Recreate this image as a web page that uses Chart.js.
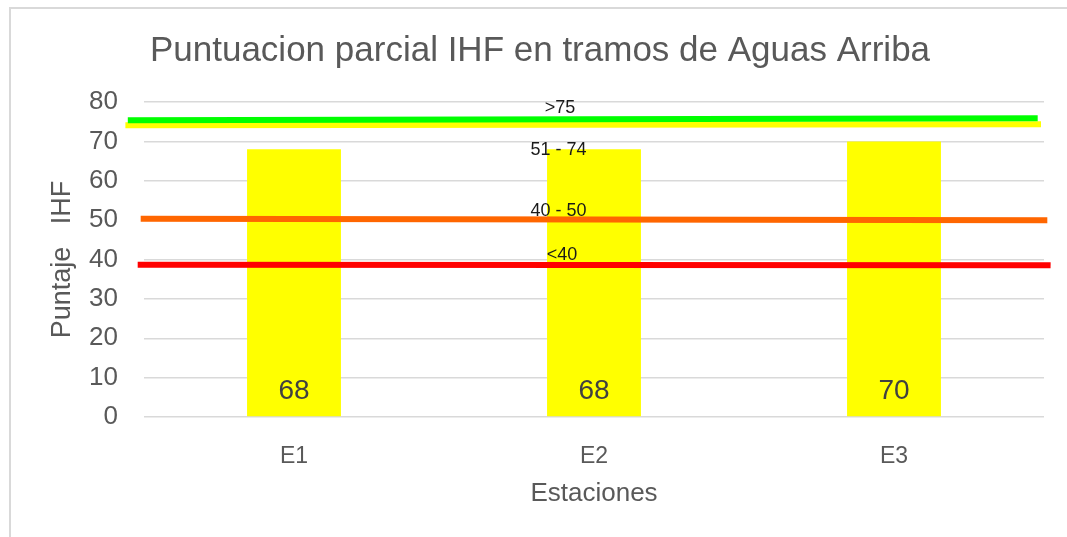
<!DOCTYPE html>
<html>
<head>
<meta charset="utf-8">
<script src="https://cdn.jsdelivr.net/npm/chart.js@4/dist/chart.umd.min.js"></script>
<style>
  body { margin: 0; background: #fff; }
  #wrap { position: relative; width: 1067px; height: 537px; overflow: hidden; }
  #frame { position: absolute; left: 9px; top: 7px; width: 1100px; height: 600px;
           border-top: 2px solid #d9d9d9; border-left: 2px solid #d9d9d9; }
  canvas { position: absolute; left: 0; top: 0; }
</style>
</head>
<body>
<div id="wrap">
  <div id="frame"></div>
  <canvas id="myChart" width="1067" height="537"></canvas>
</div>
<script>
// datos del grafico
const estaciones = ['E1', 'E2', 'E3'];
const puntajes = [68, 68, 70];

// lineas de rango (x en unidades de categoria, y en puntaje)
const lineaVerde = [{x: -0.054, y: 75.35}, {x: 2.979, y: 75.86}];
const lineaAmarilla = [{x: -0.062, y: 74.08}, {x: 2.99, y: 74.33}];
const lineaNaranja = [{x: -0.011, y: 50.36}, {x: 3.011, y: 49.95}];
const lineaRoja = [{x: -0.021, y: 38.68}, {x: 3.022, y: 38.53}];

// etiquetas de rango
const rangos = ['>75', '51 - 74', '40 - 50', '<40'];
const rangosX = [1.387, 1.382, 1.382, 1.393];
const rangosY = [78.48, 67.81, 52.19, 41.14];

const fuente = '"Liberation Sans", Arial, sans-serif';

const etiquetasPlugin = {
    id: 'etiquetas',
    afterDatasetsDraw(chart) {
        const ctx = chart.ctx;
        ctx.save();
        // valores dentro de las barras
        const meta = chart.getDatasetMeta(0);
        ctx.font = '28px ' + fuente;
        ctx.fillStyle = '#404040';
        ctx.textAlign = 'center';
        ctx.textBaseline = 'middle';
        meta.data.forEach((bar, i) => {
            ctx.fillText(String(puntajes[i]), bar.x, bar.base - 25);
        });
        // textos de rango
        const xs = chart.scales.xl;
        const ys = chart.scales.y;
        ctx.font = '18px ' + fuente;
        ctx.fillStyle = '#1a1a1a';
        rangos.forEach((t, i) => {
            ctx.fillText(t, xs.getPixelForValue(rangosX[i]), ys.getPixelForValue(rangosY[i]));
        });
        ctx.restore();
    }
};

function linea(data, color, orden) {
    return {
        type: 'line',
        data: data,
        xAxisID: 'xl',
        yAxisID: 'y',
        borderColor: color,
        borderWidth: 6,
        pointRadius: 0,
        clip: false,
        order: orden
    };
}

const ctx = document.getElementById('myChart').getContext('2d');
new Chart(ctx, {
    type: 'bar',
    data: {
        labels: estaciones,
        datasets: [
            {
                label: 'Puntaje',
                data: puntajes,
                backgroundColor: '#ffff00',
                borderWidth: 0,
                grouped: false,
                categoryPercentage: 1,
                barPercentage: 0.313,
                order: 10
            },
            linea(lineaAmarilla, '#ffff00', 4),
            linea(lineaVerde, '#00ff00', 3),
            linea(lineaNaranja, '#ff6600', 2),
            linea(lineaRoja, '#ff0000', 1)
        ]
    },
    options: {
        responsive: false,
        animation: false,
        layout: { padding: { left: 13, right: 0, top: 0, bottom: 0 } },
        plugins: {
            legend: { display: false },
            tooltip: { enabled: false },
            title: {
                display: true,
                text: 'Puntuacion parcial IHF en tramos de Aguas Arriba',
                color: '#595959',
                font: { family: fuente, size: 35, weight: 'normal' },
                padding: { top: 30, bottom: 30 }
            }
        },
        scales: {
            x: {
                grid: { display: false },
                border: { display: false },
                ticks: { color: '#595959', font: { family: fuente, size: 23 }, padding: 18 },
                title: {
                    display: true,
                    text: 'Estaciones',
                    color: '#595959',
                    font: { family: fuente, size: 26 },
                    padding: { top: 4, bottom: 28 }
                },
                afterFit(scale) { scale.height = 120; }
            },
            xl: {
                type: 'linear',
                display: false,
                offset: false,
                min: 0,
                max: 3
            },
            y: {
                min: 0,
                max: 80,
                grid: { color: '#d9d9d9', lineWidth: 1.5, drawTicks: false },
                border: { display: false },
                ticks: { stepSize: 10, color: '#595959', font: { family: fuente, size: 26 }, padding: 26 },
                title: {
                    display: true,
                    text: 'Puntaje   IHF',
                    color: '#595959',
                    font: { family: fuente, size: 27 },
                    padding: { top: 33, bottom: 4 }
                },
                afterFit(scale) { scale.width = 131; }
            },
            // eje vacio a la derecha, solo reserva margen
            yr: {
                position: 'right',
                min: 0,
                max: 80,
                grid: { display: false },
                border: { display: false },
                ticks: { display: false },
                afterFit(scale) { scale.width = 23; }
            }
        }
    },
    plugins: [etiquetasPlugin]
});
</script>
</body>
</html>
